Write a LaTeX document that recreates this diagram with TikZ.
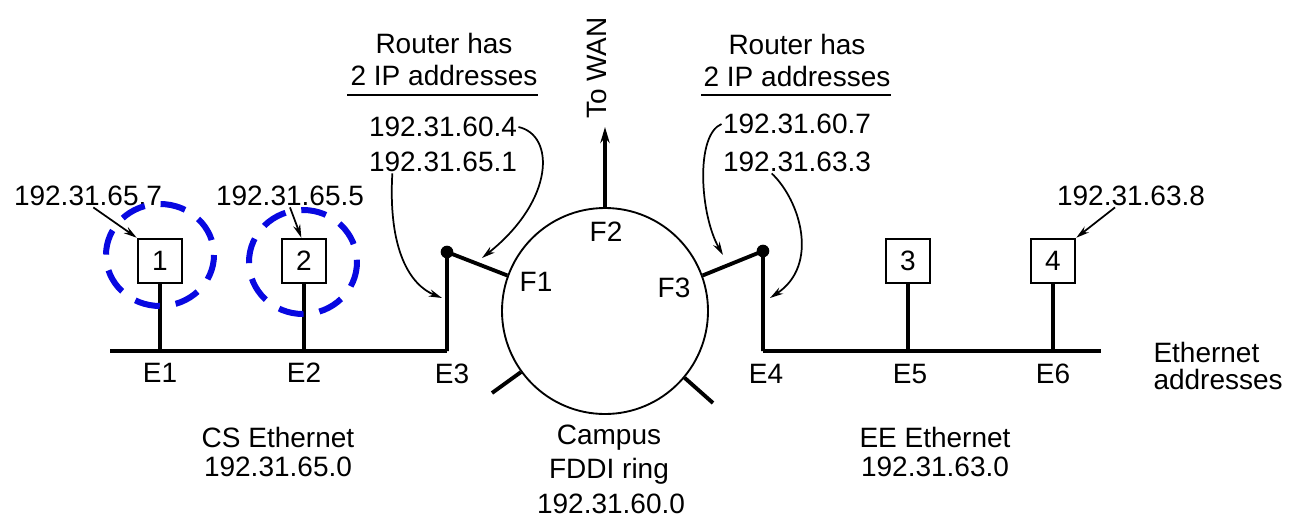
\documentclass[tikz,border=0pt]{standalone}
\usepackage{fontspec}
\setmainfont{Liberation Sans}
\usetikzlibrary{arrows.meta}
\definecolor{haloblue}{RGB}{8,8,225}

\tikzset{every picture/.style={line width=0.75pt}}

\begin{document}
\begin{tikzpicture}[x=0.75pt,y=0.75pt,yscale=-1,xscale=1,
  lbl/.style={inner sep=0.75pt, font=\fontsize{21}{25}\selectfont},
  hostbox/.style={draw, line width=1.9, minimum size=33pt, inner sep=0pt, fill=white, font=\fontsize{21}{25}\selectfont},
  cable/.style={line width=2.9},
  pointer/.style={line width=1.3, -{Stealth[length=10pt,width=5.5pt]}},
  joint/.style={circle, fill, minimum size=9.5pt, inner sep=0pt},
  halo/.style={draw=haloblue, line width=4.5, dash pattern=on 19pt off 12pt}]
\useasboundingbox (0,0) rectangle (1290,518);

%Ethernet taps
\coordinate (csend) at (110,351);
\coordinate (e1) at (160,351);
\coordinate (e2) at (304,351);
\coordinate (e3) at (447,351);
\coordinate (e4) at (763,351);
\coordinate (e5) at (908,351);
\coordinate (e6) at (1053,351);
\coordinate (eeend) at (1101,351);

%Straight Lines (cables)
\draw [cable] (csend) -- (e3) ;
\draw [cable] (e4) -- (eeend) ;

%Hosts
\node [hostbox] (h1) at (160,261) {1};
\node [hostbox] (h2) at (304,261) {2};
\node [hostbox] (h3) at (908,261) {3};
\node [hostbox] (h4) at (1053,261) {4};
\draw [cable] (h1) -- (e1) ;
\draw [cable] (h2) -- (e2) ;
\draw [cable] (h3) -- (e5) ;
\draw [cable] (h4) -- (e6) ;

%FDDI ring
\node [draw, circle, line width=1.4, minimum size=154.5pt, inner sep=0pt] (ring) at (605,311) {};

%Routers
\node [joint] (r1) at (447,252) {};
\node [joint] (r2) at (763,251) {};
\draw [cable, line join=round] (e3) -- (r1.center) -- (ring.160) ;
\draw [cable, line join=round] (e4) -- (r2.center) -- (ring.20) ;

%Stubs
\coordinate (s1) at (492,393);
\coordinate (s2) at (713,403);
\draw [cable] (ring.216) -- (s1) ;
\draw [cable] (ring.320) -- (s2) ;

%To WAN
\coordinate (wan) at (605,127);
\draw [cable, -{Stealth[length=12pt,width=7pt]}] (ring.north) -- (wan) ;
\node [lbl, rotate=90] (towan) at (597,68) {To WAN};

% Text Node
\node [lbl] (f1) at (536,282) {F1};
\node [lbl] (f2) at (606,232) {F2};
\node [lbl] (f3) at (674,288) {F3};
% Text Node
\node [lbl] (le1) at (160,373) {E1};
\node [lbl] (le2) at (304,373) {E2};
\node [lbl] (le3) at (452,374) {E3};
\node [lbl] (le4) at (766,374) {E4};
\node [lbl] (le5) at (910,374) {E5};
\node [lbl] (le6) at (1053,374) {E6};

% Text Node
\node [lbl] (rla) at (444,43) {Router has};
\node [lbl] (rlb) at (444,75) {2 IP addresses};
\draw [line width=1.3] (347,95) -- (538,95) ;
\node [lbl] (rra) at (797,44) {Router has};
\node [lbl] (rrb) at (797,76) {2 IP addresses};
\draw [line width=1.3] (701,95) -- (891,95) ;

% Text Node
\node [lbl] (ipa) at (443,127) {192.31.60.4};
\node [lbl] (ipb) at (443,162) {192.31.65.1};
\node [lbl] (ipc) at (797,124) {192.31.60.7};
\node [lbl] (ipd) at (797,162) {192.31.63.3};

%Curve Lines
\coordinate (pa) at (482,258);
\coordinate (pb) at (442,298);
\coordinate (pc) at (723,255);
\coordinate (pd) at (770,298);
\draw [pointer] (ipa.east) .. controls (555,135) and (555,200) .. (pa) ;
\draw [pointer] ([xshift=-38pt]ipb.south) .. controls (388,250) and (410,285) .. (pb) ;
\draw [pointer] (ipc.west) .. controls (695,135) and (700,215) .. (pc) ;
\draw [pointer] ([xshift=-19pt]ipd.south) .. controls (800,200) and (820,265) .. (pd) ;

% Text Node
\node [lbl] (ha1) at (88,196) {192.31.65.7};
\node [lbl] (ha2) at (290,196) {192.31.65.5};
\node [lbl] (ha4) at (1131,196) {192.31.63.8};
\draw [pointer] ([xshift=4pt]ha1.south) -- (h1.north west) ;
\draw [pointer] (ha2.south) -- ([xshift=-2pt]h2.north) ;
\draw [pointer] ([xshift=-12pt]ha4.south) -- (h4.north east) ;

%Dashed halos
\draw [halo] (160,255) ellipse [x radius=54, y radius=51] ;
\draw [halo] (303,262) ellipse [x radius=54, y radius=52] ;

% Text Node
\node [lbl] (cs1) at (278,437) {CS Ethernet};
\node [lbl] (cs2) at (278,467) {192.31.65.0};
\node [lbl] (fd1) at (609,438) {Campus};
\node [lbl] (fd2) at (609,471) {FDDI ring};
\node [lbl] (fd3) at (611,504) {192.31.60.0};
\node [lbl] (ee1) at (935,437) {EE Ethernet};
\node [lbl] (ee2) at (935,467) {192.31.63.0};
\node [lbl, anchor=west] (ea1) at (1152,352) {Ethernet};
\node [lbl, anchor=west] (ea2) at (1152,379) {addresses};

\end{tikzpicture}
\end{document}
